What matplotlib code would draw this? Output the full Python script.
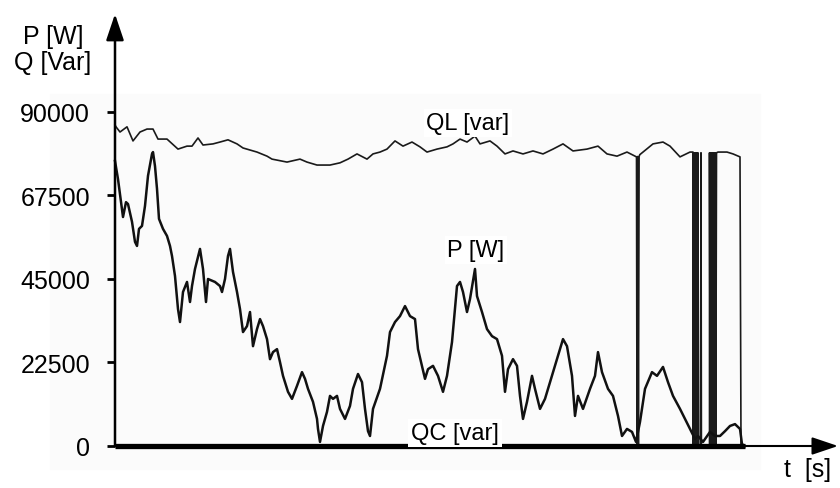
import matplotlib.pyplot as plt
from matplotlib.patches import Rectangle

plt.rcParams['font.family'] = ['Liberation Sans', 'DejaVu Sans']

# time in samples, reactive load power QL in var
t_ql = [0, 1, 5, 12, 18, 25, 32, 38, 43, 52, 63, 72, 77, 83, 88, 98, 105, 113,
        122, 128, 142, 152, 157, 172, 185, 192, 202, 215, 225, 233, 242, 252,
        258, 265, 272, 280, 288, 297, 305, 312, 322, 332, 338, 345, 352, 360,
        365, 375, 382, 390, 398, 408, 418, 428, 438, 448, 458, 472, 483, 492,
        502, 512, 521.5, 522, 522.7, 523.4, 524.1, 524.8, 528, 538, 548, 555,
        565, 575,
        578, 578, 578.7, 579.4, 580.1, 580.8, 581.5, 582.2, 582.9, 583.6,
        585.6, 586, 586.4, 594.5, 594.5, 595.2, 595.9, 596.6, 597.3, 598,
        598.7, 599.4, 600.1, 600.8, 601.5, 603, 612, 618, 625, 626, 630]
ql = [86500, 86000, 84600, 86000, 82200, 84600, 85400, 85400, 82700, 82700,
      80000, 80800, 80800, 83000, 81100, 81400, 81900, 82500, 81400, 80300,
      79200, 78100, 77300, 76500, 77300, 76500, 75700, 75700, 76300, 77300,
      78700, 77300, 78700, 79200, 80000, 82200, 80800, 81900, 80600, 79200,
      80000, 80600, 81400, 82700, 81900, 83500, 81400, 82200, 80800, 78700,
      79500, 78700, 79500, 78700, 80000, 81400, 79500, 80000, 80800, 78700,
      78100, 79200, 77900, 0, 78000, 0, 78000, 78500, 79200, 81400, 81900,
      80800, 77900, 79200,
      79200, 0, 79000, 0, 79000, 0, 79000, 0, 79000, 0,
      0, 79000, 0, 0, 79000, 0, 79000, 0, 79000, 0,
      79000, 0, 79000, 0, 79000, 79200, 79200, 78700, 77900, 0, 0]

# active power P in W
t_p = [0, 3, 7, 8, 11, 13, 17, 20, 22, 24, 27, 30, 33, 37, 38, 40, 42, 44,
       48, 52, 55, 57, 60, 63, 65, 68, 72, 75, 77, 80, 85, 88, 91, 93, 100,
       105, 107, 110, 113, 115, 118, 122, 125, 128, 132, 135, 138, 142, 145,
       148, 152, 155, 158, 162, 165, 168, 173, 177, 182, 187, 190, 193, 198,
       202, 203, 205, 208, 212, 215, 218, 222, 225, 230, 235, 238, 243, 247,
       250, 253, 255, 258, 265, 272, 275, 280, 285, 290, 295, 300, 303, 307,
       310, 313, 318, 323, 328, 332, 337, 342, 345, 348, 352, 355, 360, 362,
       367, 372, 377, 382, 387, 390, 393, 398, 402, 405, 408, 412, 417, 420,
       425, 430, 435, 442, 448, 452, 457, 460, 463, 468, 475, 480, 483, 487,
       493, 498, 503, 507, 512, 517, 521, 525, 530, 537, 542, 548, 553, 558,
       565, 570, 575, 580, 583, 588, 595, 600, 605, 610, 615, 620, 625, 627,
       630]
p = [76800, 71900, 63900, 61700, 65700, 65200, 60400, 55000, 53900, 58500,
     59300, 64700, 72800, 78700, 79200, 75400, 69300, 61200, 58500, 56600,
     53900, 51200, 45800, 36900, 33400, 41500, 44200, 38800, 43100, 47700,
     53100, 47700, 38800, 45000, 44200, 43100, 41500, 45000, 51200, 53100,
     46900, 41500, 36900, 30700, 32300, 36100, 26900, 31500, 34200, 32300,
     28800, 23400, 25300, 26100, 22600, 18900, 14600, 12700, 16200, 19900,
     18100, 15400, 11900, 7300, 4600, 1100, 5400, 9200, 13500, 12700, 13500,
     10000, 7300, 10800, 15400, 19400, 17200, 10000, 4000, 2700, 10000,
     15400, 24300, 30700, 33400, 35000, 37700, 35000, 34200, 26100, 21600,
     18100, 20700, 21600, 18900, 14600, 18900, 28000, 43100, 44200, 41500,
     36100, 39600, 47700, 40400, 36100, 31500, 29600, 28800, 24300, 14600,
     20700, 23400, 21600, 13500, 7300, 11900, 18900, 15400, 10000, 12700,
     17200, 23400, 28800, 26900, 18900, 8100, 13500, 10000, 15400, 18900,
     25300, 19900, 15400, 13500, 8100, 2700, 4600, 3800, 1100, 6500, 15400,
     19900, 18900, 21300, 17200, 13500, 10000, 7300, 4600, 1900, 2700, 1100,
     3800, 2700, 2700, 4000, 5400, 5900, 4600, 500, 0]

# capacitor bank reactive power QC in var
t_qc = [0, 630]
qc = [0, 0]

y_ticks = [0, 22500, 45000, 67500, 90000]

fig = plt.figure(figsize=(8.4, 4.89), dpi=100)
fig.patches.append(Rectangle((50 / 840, 19 / 489), 710 / 840, 375 / 489,
                             transform=fig.transFigure, color='#fbfbfb',
                             zorder=-1))
ax = fig.add_axes([115 / 840, 42 / 489, 723 / 840, 432 / 489])
ax.set_facecolor('none')

ax.plot(t_ql, ql, color='#1a1a1a', lw=1.2, clip_on=False)
ax.plot(t_p, p, color='#111111', lw=1.8, clip_on=False)
ax.plot(t_qc, qc, color='black', lw=3.8, solid_capstyle='butt',
        clip_on=False, zorder=4)

ax.set_xlim(0, 723)
ax.set_ylim(0, 116400)
for s in ax.spines.values():
    s.set_visible(False)
ax.set_xticks([])
ax.set_yticks(y_ticks)
ax.set_yticklabels([str(v) for v in y_ticks])
ax.tick_params(axis='y', direction='out', length=6, width=2, pad=12,
               labelsize=18)

# axes with arrow heads
ax.annotate('', xy=(0, 1), xytext=(0, 0), xycoords='axes fraction',
            arrowprops=dict(arrowstyle='-|>,head_length=0.8,head_width=0.27',
                            lw=1.8, color='black', mutation_scale=20,
                            shrinkA=0, shrinkB=0))
ax.annotate('', xy=(1, 0), xytext=(0, 0), xycoords='axes fraction',
            arrowprops=dict(arrowstyle='-|>,head_length=0.8,head_width=0.27',
                            lw=1.5, color='black', mutation_scale=20,
                            shrinkA=0, shrinkB=0))

box = dict(fc='white', ec='none', pad=2)
ax.text(353, 87000, 'QL [var]', ha='center', va='center', fontsize=17, bbox=box)
ax.text(361, 52800, 'P [W]', ha='center', va='center', fontsize=17, bbox=box)
ax.text(340, 3500, 'QC [var]', ha='center', va='center', fontsize=17,
        bbox=box, zorder=5)

fig.text(53 / 840, 1 - 50 / 489, 'P [W]\nQ [Var]', ha='center', va='center',
         fontsize=18, linespacing=1.1)
fig.text(808 / 840, 1 - 470 / 489, 't  [s]', ha='center', va='center',
         fontsize=18)

fig.savefig('out.png', dpi=100)
